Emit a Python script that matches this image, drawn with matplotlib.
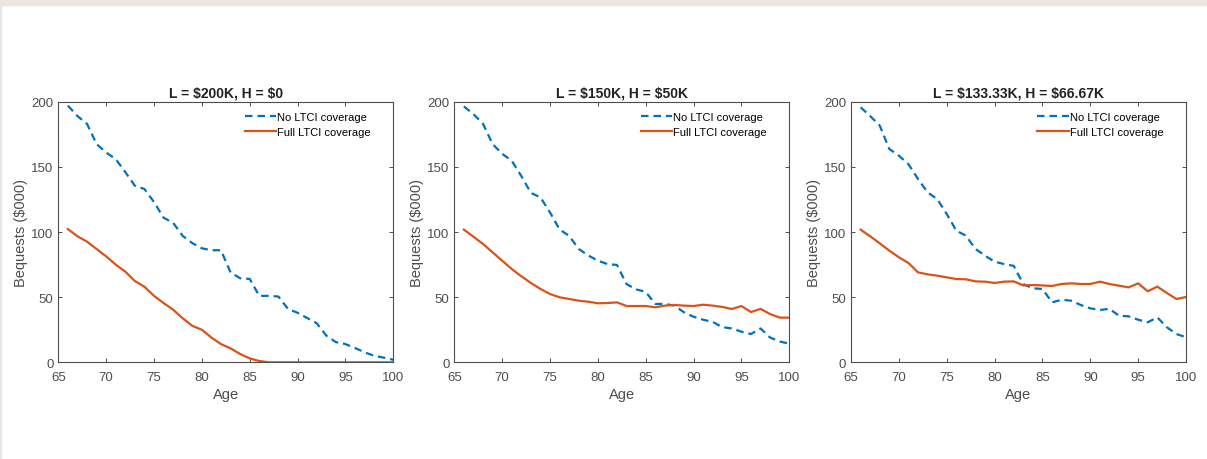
import numpy as np
import matplotlib
matplotlib.use("Agg")
import matplotlib.pyplot as plt
from matplotlib.patches import Rectangle

plt.rcParams['font.family'] = ['Liberation Sans', 'DejaVu Sans']

ages = np.arange(66, 101)

titles = ["L = \\$200K, H = \\$0", "L = \\$150K, H = \\$50K", "L = \\$133.33K, H = \\$66.67K"]

# без страховки (синяя пунктирная)
no_ltci_1 = [197, 189, 183, 167.5, 161, 156, 146, 135.5, 133, 123, 111, 107, 97, 91.5,
             87.5, 86, 86, 69, 64.5, 64, 51, 51, 50.5, 41, 38, 34, 30, 20.5, 15.5, 14,
             11, 7.7, 5, 3.6, 2]
no_ltci_2 = [196.4, 190.5, 183, 167.5, 160, 154.7, 143, 130, 126.6, 115, 102, 97, 87, 82,
             78, 75.4, 74.7, 60, 56, 54, 44.8, 44.8, 43.5, 38.4, 35, 32.7, 31, 27, 26, 23.5,
             21.7, 26, 19, 16, 14.3]
no_ltci_3 = [195.7, 189, 181.6, 163.7, 158.6, 152, 140.7, 130.4, 125.3, 113.8, 101, 97.2,
             87, 81.8, 77.2, 75.4, 74, 60, 56.8, 56.3, 46, 48, 47.3, 44, 41.4, 40.2, 41,
             35.8, 35.3, 32.7, 30.7, 34.5, 26.9, 21.7, 19.2]

# полная страховка (оранжевая сплошная)
full_ltci_1 = [102.3, 96.7, 92.6, 87, 81.3, 75, 69.6, 62.4, 58, 51, 45.5, 40.4, 33.8, 28,
               25, 19, 14, 10.7, 6.4, 3, 1, 0, 0, 0, 0, 0, 0, 0, 0, 0, 0, 0, 0, 0, 0]
full_ltci_2 = [101.8, 96.4, 90.8, 84.4, 78, 71.6, 66, 60.9, 56.3, 52.4, 49.9, 48.6, 47.3,
               46.5, 45.3, 45.5, 46, 43.2, 43.2, 43.2, 42.2, 43.5, 44, 43.5, 43.2, 44.2,
               43.5, 42.5, 40.9, 43.2, 38.6, 41, 37, 34.3, 34.3]
full_ltci_3 = [101.8, 96.7, 91.3, 85.7, 80.6, 76.2, 69, 67.5, 66.5, 65.2, 63.9, 63.7, 62.1,
               61.9, 60.9, 61.9, 62.1, 59, 59.3, 59, 58.6, 60.1, 60.6, 60.1, 60.1, 61.9,
               60.1, 58.8, 57.5, 60.6, 54.5, 58.1, 53.2, 48.6, 50.1]

no_ltci = [no_ltci_1, no_ltci_2, no_ltci_3]
full_ltci = [full_ltci_1, full_ltci_2, full_ltci_3]

blue = "#0072BD"
orange = "#D95319"
gray = "#4d4d4d"

fig = plt.figure(figsize=(12.07, 4.6), dpi=100)
fig.patches.append(Rectangle((0, 0.987), 1, 0.013, transform=fig.transFigure,
                             color="#ebe6df", zorder=0))
fig.patches.append(Rectangle((0, 0), 0.0009, 1, transform=fig.transFigure,
                             color="#ebe6df", zorder=0))

lefts = [0.0483, 0.3764, 0.7051]
for i in range(3):
    ax = fig.add_axes([lefts[i], 0.2102, 0.2775, 0.5665])
    ax.plot(ages, no_ltci[i], color=blue, lw=1.6, dashes=(3.4, 2.2), label="No LTCI coverage")
    ax.plot(ages, full_ltci[i], color=orange, lw=1.6, label="Full LTCI coverage")
    ax.set_xlim(65, 100)
    ax.set_ylim(0, 200)
    ax.set_xticks(np.arange(65, 101, 5))
    ax.set_yticks(np.arange(0, 201, 50))
    ax.tick_params(direction="in", top=True, right=True, length=3, width=0.7,
                   colors=gray, labelsize=9.5)
    ax.tick_params(axis="x", pad=6)
    ax.tick_params(axis="y", pad=3.5)
    for s in ax.spines.values():
        s.set_color(gray)
        s.set_linewidth(0.8)
    ax.set_title(titles[i], fontsize=10, fontweight="bold", color="#222222", pad=4)
    ax.set_xlabel("Age", fontsize=10.5, color=gray, labelpad=3)
    ax.set_ylabel("Bequests (\\$000)", fontsize=10.5, color=gray, labelpad=2)
    ax.legend(loc="upper right", frameon=False, fontsize=8, handlelength=2.8,
              handletextpad=0.1, borderaxespad=0.5, labelspacing=0.45,
              bbox_to_anchor=(0.962, 1.0))

fig.savefig("out.png", dpi=100)
